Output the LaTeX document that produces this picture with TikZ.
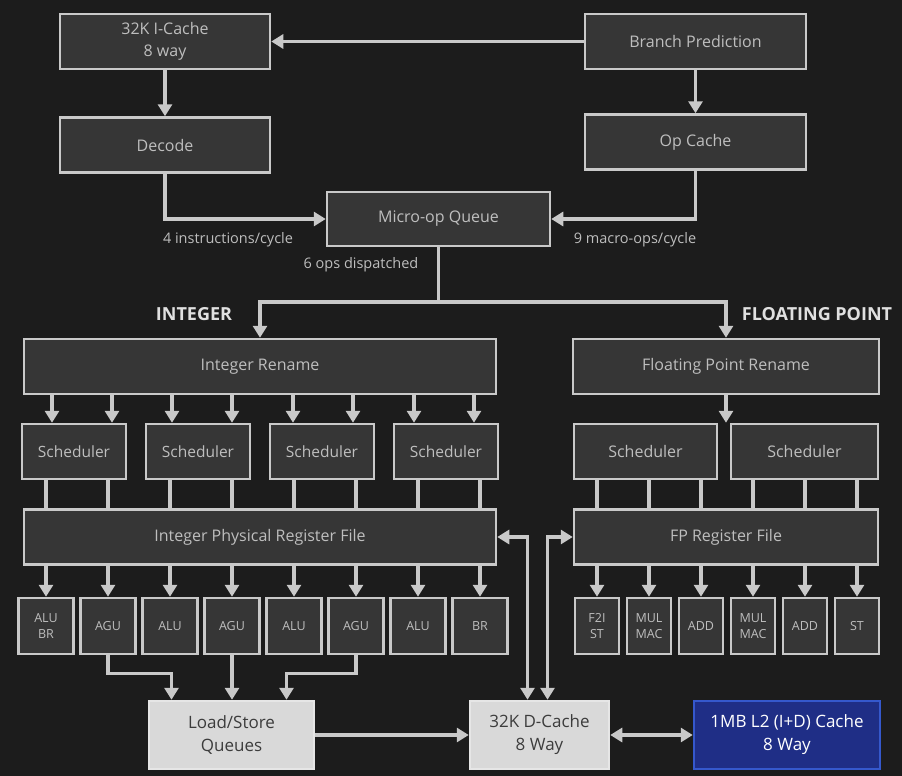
\documentclass[tikz,border=0pt]{standalone}
\usepackage{fontspec}
\setmainfont{Open Sans}
\usepackage{tikz}
\usetikzlibrary{arrows.meta,positioning}
\definecolor{bg}{HTML}{1C1C1C}
\definecolor{boxfill}{HTML}{363636}
\definecolor{edge}{HTML}{C9C9C9}
\definecolor{txt}{HTML}{BEBEBE}
\definecolor{lightfill}{HTML}{D9D9D9}
\definecolor{lightedge}{HTML}{E6E6E6}
\definecolor{darktxt}{HTML}{3C3C3C}
\definecolor{ltwofill}{HTML}{1F2E86}
\definecolor{ltwoedge}{HTML}{3558CC}

\begin{document}
\begin{tikzpicture}[
  x=1pt, y=-1pt,
  every node/.style={font=\fontsize{16}{22}\selectfont, text=txt},
  blk/.style={draw=edge, line width=2.5pt, fill=boxfill, inner sep=0pt, align=center, minimum height=55pt},
  sched/.style={blk, minimum width=104pt, font=\fontsize{15.5}{20}\selectfont},
  unit/.style={blk, minimum width=55pt, minimum height=56pt, font=\fontsize{12.5}{16}\selectfont},
  funit/.style={unit, minimum width=44pt},
  mem/.style={blk, fill=lightfill, draw=lightedge, text=darktxt, minimum height=68pt, font=\fontsize{17}{23}\selectfont},
  lbl/.style={font=\fontsize{14.5}{18}\selectfont},
  hdr/.style={font=\bfseries\fontsize{18}{22}\selectfont, text=white!88!black},
  conn/.style={draw=edge, line width=3.5pt},
  arr/.style={conn, -{Triangle[width=14pt,length=12pt]}},
  dbl/.style={conn, {Triangle[width=14pt,length=12pt]}-{Triangle[width=14pt,length=12pt]}},
]
  \fill[bg] (0,0) rectangle (902,776);

  % front end
  \node[blk, minimum width=210pt] (icache) at (165,41.5) {32K I-Cache\\8 way};
  \node[blk, minimum width=221pt] (bp) at (695.5,41.5) {Branch Prediction};
  \node[blk, minimum width=210pt, below=46pt of icache] (decode) {Decode};
  \node[blk, minimum width=221pt, below=43pt of bp] (opc) {Op Cache};
  \node[blk, minimum width=223pt, minimum height=54pt] (moq) at (438.5,219) {Micro-op Queue};

  \node[lbl] (fetchrate) at (228,240) {4 instructions/cycle};
  \node[lbl] (oprate) at (635,240) {9 macro-ops/cycle};
  \node[lbl] (disprate) at (361,265) {6 ops dispatched};

  \draw[arr] (bp.west) -- (icache.east);
  \draw[arr] (icache.south) -- (decode.north);
  \draw[arr] (bp.south) -- (opc.north);
  \draw[arr] (decode.south) |- (moq.west);
  \draw[arr] (opc.south) |- (moq.east);

  % rename
  \node[hdr] (intlbl) at (194,314) {INTEGER};
  \node[hdr] (fplbl) at (817,314) {FLOATING POINT};
  \node[blk, minimum width=472pt] (irename) at (260,366.5) {Integer Rename};
  \node[blk, minimum width=306pt] (frename) at (726,366.5) {Floating Point Rename};

  \coordinate (fork) at (438.5,302);
  \draw[conn] (moq.south) -- (fork);
  \draw[arr] (fork) -| (irename.north);
  \draw[arr] (fork) -| (frename.north);

  % schedulers and register files
  \foreach \i in {1,...,4}
    \node[sched] (s\i) at ({-50+124*\i},451.5) {Scheduler};
  \node[blk, minimum width=143pt] (fs1) at (645.5,451.5) {Scheduler};
  \node[blk, minimum width=147pt] (fs2) at (804.5,451.5) {Scheduler};
  \node[blk, minimum width=472pt] (iprf) at (260,537) {Integer Physical Register File};
  \node[blk, minimum width=304pt] (fprf) at (726,537) {FP Register File};

  % execution units
  \foreach \t [count=\i] in {{ALU\\BR},AGU,ALU,AGU,ALU,AGU,ALU,BR}
    \node[unit] (u\i) at ({-16+62*\i},626) {\t};
  \foreach \t [count=\i] in {{F2I\\ST},{MUL\\MAC},ADD,{MUL\\MAC},ADD,ST}
    \node[funit] (fu\i) at ({545+52*\i},626) {\t};

  \foreach \i/\j/\d in {1/1/6,2/1/4,3/2/2,4/2/0,5/3/-1,6/3/-3,7/4/-4,8/4/-6}
    \draw[arr] ([xshift=\d pt]u\i.north |- irename.south) -- ([xshift=\d pt]u\i.north |- s\j.north);
  \foreach \i/\j in {1/1,2/1,3/2,4/2,5/3,6/3,7/4,8/4}
    \draw[conn] (u\i.north |- s\j.south) -- (u\i.north |- iprf.north);
  \foreach \i in {1,...,8}
    \draw[arr] (u\i.north |- iprf.south) -- (u\i.north);

  \draw[arr] (frename.south) -- (frename.south |- fs1.north);
  \foreach \i/\j in {1/1,2/1,3/1,4/2,5/2,6/2}
    \draw[conn] (fu\i.north |- fs\j.south) -- (fu\i.north |- fprf.north);
  \foreach \i in {1,...,6}
    \draw[arr] (fu\i.north |- fprf.south) -- (fu\i.north);

  % memory
  \node[mem, minimum width=165pt] (lsq) at (231.5,735) {Load/Store\\Queues};
  \node[mem, minimum width=139pt] (dcache) at (539.5,735) {32K D-Cache\\8 Way};
  \node[mem, minimum width=186pt, fill=ltwofill, draw=ltwoedge, text=white] (l2) at (787,735) {1MB L2 (I+D) Cache\\8 Way};

  \draw[arr] (u2.south) -- ++(0,18) -| ([xshift=-60pt]lsq.north);
  \draw[arr] (u4.south) -- (u4.south |- lsq.north);
  \draw[arr] (u6.south) -- ++(0,18) -| ([xshift=55pt]lsq.north);
  \draw[arr] (lsq.east) -- (dcache.west);
  \draw[dbl] (dcache.east) -- (l2.west);
  \draw[dbl] (iprf.east) -| ([xshift=-12pt]dcache.north);
  \draw[dbl] (fprf.west) -| ([xshift=8pt]dcache.north);
\end{tikzpicture}
\end{document}
